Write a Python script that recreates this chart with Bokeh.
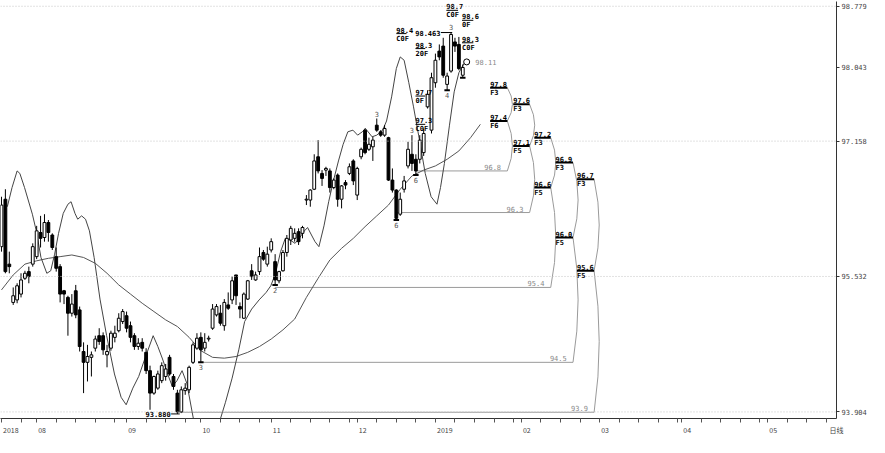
from bokeh.plotting import figure
from bokeh.models import Range1d, LinearAxis, FixedTicker, Span, ColumnDataSource
from bokeh.embed import file_html
from bokeh.resources import INLINE
from bokeh.core.properties import value

# ---------------- data (daily bars, index 0 = 2018-07-19) ----------------
opens = [95.89, 96.46, 95.68, 95.22, 95.25, 95.32, 95.51, 95.59, 95.68, 95.77,
         96.06, 96.00, 96.18, 96.03, 95.77, 95.65, 95.36, 95.28, 95.09, 95.36,
         95.13, 94.63, 94.50, 94.56, 94.67, 94.82, 94.82, 94.59, 94.67, 94.80,
         94.88, 94.99, 95.06, 94.94, 94.82, 94.69, 94.74, 94.62, 94.40, 94.13,
         94.19, 94.28, 94.33, 94.56, 94.33, 94.13, 93.905, 94.16, 94.17, 94.50,
         94.67, 94.80, 94.67, 94.78, 94.91, 95.07, 95.09, 94.94, 95.19, 95.25,
         95.55, 95.17, 95.03, 95.26, 95.60, 95.49, 95.59, 95.82, 95.68, 95.85,
         95.71, 95.48, 95.60, 95.82, 95.97, 95.99, 96.07, 96.05, 96.45, 96.45,
         96.58, 96.97, 96.77, 96.81, 96.80, 96.60, 96.75, 96.46, 96.66, 96.77,
         96.92, 96.51, 96.97, 97.29, 97.06, 97.09, 97.35, 97.27, 97.23, 97.20,
         96.69, 96.57, 96.28, 96.58, 96.86, 97.00, 96.94, 96.94, 97.02, 97.57,
         97.29, 97.86, 98.24, 98.30, 97.84, 98.00, 98.35, 98.32, 97.95]
closes = [96.39, 95.59, 95.65, 95.30, 95.42, 95.49, 95.57, 95.53, 95.89, 96.08,
          95.99, 96.18, 96.06, 95.88, 95.63, 95.32, 95.32, 95.09, 95.20, 95.07,
          94.69, 94.50, 94.57, 94.59, 94.78, 94.75, 94.65, 94.63, 94.85, 94.85,
          95.03, 95.11, 94.91, 94.80, 94.69, 94.73, 94.67, 94.40, 94.13, 94.33,
          94.36, 94.46, 94.42, 94.36, 94.21, 93.905, 94.17, 94.19, 94.44, 94.71,
          94.79, 94.65, 94.74, 94.79, 95.14, 95.17, 94.97, 95.22, 95.15, 95.48,
          95.30, 95.14, 95.32, 95.48, 95.53, 95.55, 95.77, 95.74, 95.80, 95.95,
          95.49, 95.59, 95.82, 95.99, 96.11, 96.05, 95.95, 96.12, 96.46, 96.57,
          96.92, 96.80, 96.71, 96.83, 96.60, 96.69, 96.46, 96.62, 96.63, 96.85,
          96.68, 96.83, 97.06, 97.02, 97.12, 97.17, 97.29, 97.23, 97.31, 96.69,
          96.57, 96.23, 96.46, 96.68, 97.06, 96.89, 96.80, 97.17, 97.25, 97.72,
          97.92, 98.13, 98.17, 97.95, 97.94, 98.44, 98.30, 98.03, 98.043]
highs = [96.49, 96.58, 95.83, 95.40, 95.45, 95.57, 95.60, 95.65, 95.93, 96.14,
         96.26, 96.28, 96.21, 96.05, 95.88, 95.68, 95.37, 95.30, 95.32, 95.43,
         95.17, 94.74, 94.71, 94.63, 94.82, 94.91, 94.86, 94.71, 94.88, 94.94,
         95.09, 95.14, 95.11, 94.99, 94.85, 94.79, 94.79, 94.67, 94.46, 94.34,
         94.40, 94.50, 94.48, 94.59, 94.36, 94.17, 94.21, 94.25, 94.46, 94.74,
         94.85, 94.86, 94.85, 94.82, 95.20, 95.20, 95.19, 95.26, 95.34, 95.53,
         95.55, 95.22, 95.34, 95.49, 95.68, 95.59, 95.88, 95.85, 95.89, 95.99,
         95.80, 95.60, 95.85, 96.03, 96.14, 96.11, 96.11, 96.14, 96.51, 96.58,
         97.00, 97.17, 96.81, 96.85, 96.83, 96.71, 96.77, 96.63, 96.69, 96.89,
         96.94, 96.85, 97.08, 97.31, 97.20, 97.21, 97.43, 97.29, 97.35, 97.21,
         96.83, 96.58, 96.54, 96.74, 97.15, 97.23, 97.00, 97.23, 97.31, 97.77,
         97.98, 98.21, 98.32, 98.40, 97.98, 98.463, 98.40, 98.41, 98.08]
lows = [95.83, 95.57, 95.57, 95.19, 95.21, 95.28, 95.49, 95.45, 95.65, 95.74,
        95.88, 95.95, 95.95, 95.85, 95.59, 95.22, 95.20, 94.82, 95.05, 95.03,
        94.63, 94.13, 94.27, 94.33, 94.63, 94.71, 94.59, 94.44, 94.64, 94.74,
        94.86, 94.96, 94.86, 94.74, 94.65, 94.65, 94.63, 94.36, 93.93, 94.11,
        94.17, 94.25, 94.28, 94.34, 94.17, 93.88, 93.89, 94.11, 94.13, 94.48,
        94.65, 94.50, 94.63, 94.75, 94.89, 95.05, 94.94, 94.88, 95.13, 95.20,
        95.19, 95.03, 95.02, 95.25, 95.49, 95.48, 95.55, 95.72, 95.65, 95.82,
        95.43, 95.45, 95.59, 95.77, 95.91, 95.95, 95.91, 95.99, 96.39, 96.37,
        96.57, 96.77, 96.62, 96.74, 96.54, 96.58, 96.37, 96.35, 96.58, 96.75,
        96.63, 96.45, 96.94, 97.00, 97.04, 96.92, 97.27, 97.21, 97.21, 96.68,
        96.54, 96.21, 96.26, 96.54, 96.83, 96.80, 96.75, 96.89, 96.98, 97.55,
        97.25, 97.80, 98.13, 97.92, 97.77, 97.98, 98.23, 98.01, 97.92]

# slow moving average
ma_idx = [0, 3, 6, 9, 12, 15, 18, 21, 24, 27, 30, 33, 36, 39, 42, 45, 48, 51, 54, 57,
          60, 63, 66, 69, 72, 75, 78, 81, 84, 87, 90, 93, 96, 99, 102, 105, 108, 111,
          114, 117, 120, 122.5]
ma_val = [95.37, 95.55, 95.68, 95.72, 95.75, 95.77, 95.79, 95.76, 95.69, 95.57,
          95.43, 95.32, 95.21, 95.11, 95.01, 94.93, 94.80, 94.64, 94.56, 94.55,
          94.57, 94.62, 94.69, 94.78, 94.89, 95.02, 95.28, 95.51, 95.73, 95.87,
          95.99, 96.13, 96.26, 96.39, 96.58, 96.74, 96.81, 96.86, 96.94, 97.04,
          97.20, 97.36]

# oscillator overlay (price-scaled)
osc_idx = [1.5, 2.7, 4.0, 4.7, 5.9, 7.9, 8.9, 10.1, 11.6, 12.6,
           13.6, 14.6, 15.8, 17.0, 17.8, 18.8, 19.5, 20.5, 21.5, 22.5,
           23.7, 25.2, 26.9, 28.9, 30.6, 31.9, 33.6, 35.1, 36.8, 38.8,
           40.0, 41.2, 42.5, 43.7, 44.9, 46.2, 47.4, 49.1, 50.9, 52.8,
           54.6, 56.0, 57.3, 59.0, 60.7, 62.2, 64.0, 65.9, 67.7, 68.9,
           70.1, 71.4, 72.6, 73.8, 75.1, 76.3, 77.5, 78.3, 79.3, 80.2,
           81.2, 82.5, 83.7, 84.9, 86.2, 87.4, 88.6, 89.9, 91.1, 92.3,
           93.1, 94.8, 96.0, 97.5, 98.5, 99.8, 101.0, 102.0, 103.0, 104.2,
           105.4, 106.7, 108.4, 109.9, 111.4, 112.3, 113.3, 114.6, 115.8, 117.0,
           118.3, 119.0]
osc_val = [96.37, 96.60, 96.80, 96.77, 96.60, 96.28, 96.08, 95.76, 95.57, 95.60,
           95.80, 96.05, 96.29, 96.40, 96.43, 96.29, 96.22, 96.26, 96.22, 96.08,
           95.76, 95.26, 94.82, 94.36, 94.08, 93.99, 94.19, 94.33, 94.56, 94.82,
           94.69, 94.54, 94.36, 94.21, 94.28, 94.40, 94.25, 93.82, 93.45, 93.22,
           93.50, 93.82, 94.02, 94.31, 94.65, 94.99, 95.14, 95.25, 95.34, 95.42,
           95.57, 95.83, 95.99, 95.97, 95.93, 96.00, 96.08, 96.12, 96.03, 95.95,
           95.89, 96.14, 96.43, 96.68, 96.92, 97.12, 97.27, 97.29, 97.23, 97.27,
           97.31, 97.21, 97.23, 97.29, 97.40, 97.69, 98.03, 98.17, 98.13, 97.86,
           97.57, 97.23, 96.77, 96.49, 96.40, 96.60, 96.89, 97.35, 97.75, 97.98,
           98.09, 98.13]

# projection tree
base_start = [106, 101, 70, 51, 45]
base_val = [96.8, 96.3, 95.4, 94.5, 93.9]
f5_val = [97.4, 97.1, 96.6, 96.0, 95.6]
f5_tag = ["F6", "F5", "F5", "F5", "F5"]
f3_val = [97.8, 97.6, 97.2, 96.9, 96.7]
f3_tag = ["F3", "F3", "F3", "F3", "F3"]
col_start = [125.0, 130.9, 136.3, 141.7, 147.2]
col_end = [129.4, 135.1, 140.5, 146.2, 151.6]

# top annotations
tl_x0 = [101.0, 113.8, 117.8, 117.8, 105.9, 105.9, 105.9]
tl_x1 = [103.6, 116.8, 120.7, 120.7, 108.4, 108.4, 108.4]
tl_val = [98.45, 98.73, 98.61, 98.34, 98.27, 97.70, 97.36]
tl_top = ["98.4", "98.7", "98.6", "98.3", "98.3", "97.7", "97.3"]
tl_bot = ["C0F", "C0F", "0F", "C0F", "20F", "0F", "C0F"]

# swing counts
sw_idx = [96, 105, 115, 101, 106, 70, 51, 114]
sw_val = [97.45, 97.26, 98.49, 96.19, 96.73, 95.41, 94.48, 97.75]
sw_txt = ["3", "3", "3", "6", "6", "2", "3", "4"]
sw_pos = ["top", "top", "top", "bot", "bot", "bot", "bot", "bot"]

# swing-point markers
mk_idx = [51, 70, 101, 106, 114, 118]
mk_val = [94.50, 95.43, 96.21, 96.75, 97.77, 97.92]

month_idx = [0, 9, 32, 51, 69, 91, 111, 133, 153, 174, 196]
month_lab = ["2018", "08", "09", "10", "11", "12", "2019", "02", "03", "04", "05"]
ytick_vals = [93.904, 95.532, 97.158, 98.043, 98.779]

# ---------------- figure ----------------
X0, X1 = -0.25, 213.6
p = figure(width=869, height=437, x_range=Range1d(X0, X1), y_range=Range1d(93.825, 98.836),
           output_backend="svg", toolbar_location=None,
           x_axis_location=None, y_axis_location=None,
           min_border_left=0, min_border_top=1, min_border_right=0, min_border_bottom=0)
p.grid.visible = False
p.outline_line_color = None

MONO = value("DejaVu Sans Mono")

yaxis = LinearAxis(ticker=FixedTicker(ticks=ytick_vals, minor_ticks=[]),
                   major_label_overrides={v: f"{v:.3f}" for v in ytick_vals},
                   major_label_text_font="DejaVu Sans Mono", major_label_text_font_size="7px",
                   major_label_text_color="#444", major_tick_out=3, major_tick_in=0,
                   major_label_standoff=2, axis_line_color="#333", major_tick_line_color="#333")
p.add_layout(yaxis, "right")

lab_pos = [round(m + (2.4 if len(t) == 4 else 1.4), 1) for m, t in zip(month_idx, month_lab)]
end_pos = round(X1 - 0.01, 2)
minor = []
bounds = month_idx + [214]
for a, b in zip(bounds[:-1], bounds[1:]):
    k = a
    while k < b and k <= 213:
        minor.append(k)
        k += 5
overrides = {v: t for v, t in zip(lab_pos, month_lab)}
overrides[end_pos] = "日线"
xaxis = LinearAxis(ticker=FixedTicker(ticks=lab_pos + [end_pos], minor_ticks=minor),
                   major_label_overrides=overrides,
                   major_label_text_font="Noto Sans CJK SC", major_label_text_font_size="7px",
                   major_label_text_color="#444", major_tick_line_color=None,
                   major_tick_out=3, major_label_standoff=2,
                   minor_tick_out=4, minor_tick_in=0, minor_tick_line_color="#555",
                   axis_line_color="#333")
p.add_layout(xaxis, "below")

for v in [93.904, 95.532, 97.158, 98.779]:
    p.add_layout(Span(location=v, dimension="width", line_color="#c4c4c4",
                      line_dash="1 2", line_width=1))

# projection base lines and arcs
p.segment(x0=base_start, y0=base_val, x1=col_end, y1=base_val, line_color="#9a9a9a", line_width=1)
p.quadratic(x0=col_end, y0=base_val, x1=col_end, y1=f5_val,
            cx=[e + 2.6 for e in col_end], cy=[(a + b) / 2 for a, b in zip(base_val, f5_val)],
            line_color="#9a9a9a", line_width=1)
p.quadratic(x0=col_end, y0=f5_val, x1=col_end, y1=f3_val,
            cx=[e + 2.6 for e in col_end], cy=[(a + b) / 2 for a, b in zip(f5_val, f3_val)],
            line_color="#9a9a9a", line_width=1)
p.text(x=[e - 1.6 for e in col_end], y=base_val, text=[f"{v:.1f}" for v in base_val],
       text_font=MONO, text_font_size="7px", text_color="#888",
       text_align="right", text_baseline="bottom", y_offset=-1)

# MA and oscillator
p.line(ma_idx, ma_val, line_color="#555", line_width=1)
p.line(osc_idx, osc_val, line_color="#444", line_width=1)

# candles
idx = list(range(len(opens)))
src = ColumnDataSource(dict(
    x=idx, h=highs, l=lows,
    top=[max(o, c) for o, c in zip(opens, closes)],
    bot=[min(o, c) for o, c in zip(opens, closes)],
    fill=["white" if c >= o else "black" for o, c in zip(opens, closes)]))
p.segment(x0="x", y0="h", x1="x", y1="l", source=src, line_color="black", line_width=1)
p.vbar(x="x", width=0.72, top="top", bottom="bot", fill_color="fill",
       line_color="black", line_width=1, source=src)

# swing-point dashes
p.segment(x0=[i - 0.7 for i in mk_idx], y0=mk_val, x1=[i + 0.7 for i in mk_idx], y1=mk_val,
          line_color="black", line_width=2)

# tree bars and labels
p.segment(x0=col_start, y0=f3_val, x1=col_end, y1=f3_val, line_color="black", line_width=2)
p.segment(x0=col_start, y0=f5_val, x1=col_end, y1=f5_val, line_color="black", line_width=2)
for vals, tags in [(f3_val, f3_tag), (f5_val, f5_tag)]:
    p.text(x=col_start, y=vals, text=[f"{v:.1f}" for v in vals], text_font=MONO,
           text_font_size="7px", text_font_style="bold", text_color="black",
           text_align="left", text_baseline="bottom", y_offset=-1)
    p.text(x=col_start, y=vals, text=tags, text_font=MONO,
           text_font_size="7px", text_font_style="bold", text_color="black",
           text_align="left", text_baseline="top", y_offset=1)

# top annotations
p.segment(x0=tl_x0, y0=tl_val, x1=tl_x1, y1=tl_val, line_color="black", line_width=1)
p.text(x=tl_x0, y=tl_val, text=tl_top, text_font=MONO, text_font_size="7px",
       text_font_style="bold", text_color="black", text_align="left",
       text_baseline="bottom", y_offset=-1)
p.text(x=tl_x0, y=tl_val, text=tl_bot, text_font=MONO, text_font_size="7px",
       text_font_style="bold", text_color="black", text_align="left",
       text_baseline="top", y_offset=1)

# swing counts
for pos, base in [("top", "bottom"), ("bot", "top")]:
    sel = [i for i, s in enumerate(sw_pos) if s == pos]
    p.text(x=[sw_idx[i] for i in sel], y=[sw_val[i] for i in sel], text=[sw_txt[i] for i in sel],
           text_font=MONO, text_font_size="7px", text_color="#555",
           text_align="center", text_baseline=base)

# extreme labels
hi_i = highs.index(max(highs))
lo_i = lows.index(min(lows))
p.segment(x0=[hi_i - 2.6, lo_i - 1.6], y0=[max(highs), min(lows)],
          x1=[hi_i + 0.3, lo_i + 0.6], y1=[max(highs), min(lows)], line_color="black", line_width=1)
p.text(x=[hi_i - 2.7, lo_i - 1.7], y=[max(highs), min(lows)],
       text=[f"{max(highs):.3f}", f"{min(lows):.3f}"], text_font=MONO, text_font_size="7px",
       text_font_style="bold", text_color="black", text_align="right", text_baseline="middle")

# next-bar marker
p.scatter(x=[119], y=[98.11], marker="circle", size=6, fill_color="white", line_color="black")
p.text(x=[121.2], y=[98.11], text=["98.11"], text_font=MONO, text_font_size="7px",
       text_color="#888", text_align="left", text_baseline="middle")

open("out.html", "w").write(file_html(p, INLINE))
